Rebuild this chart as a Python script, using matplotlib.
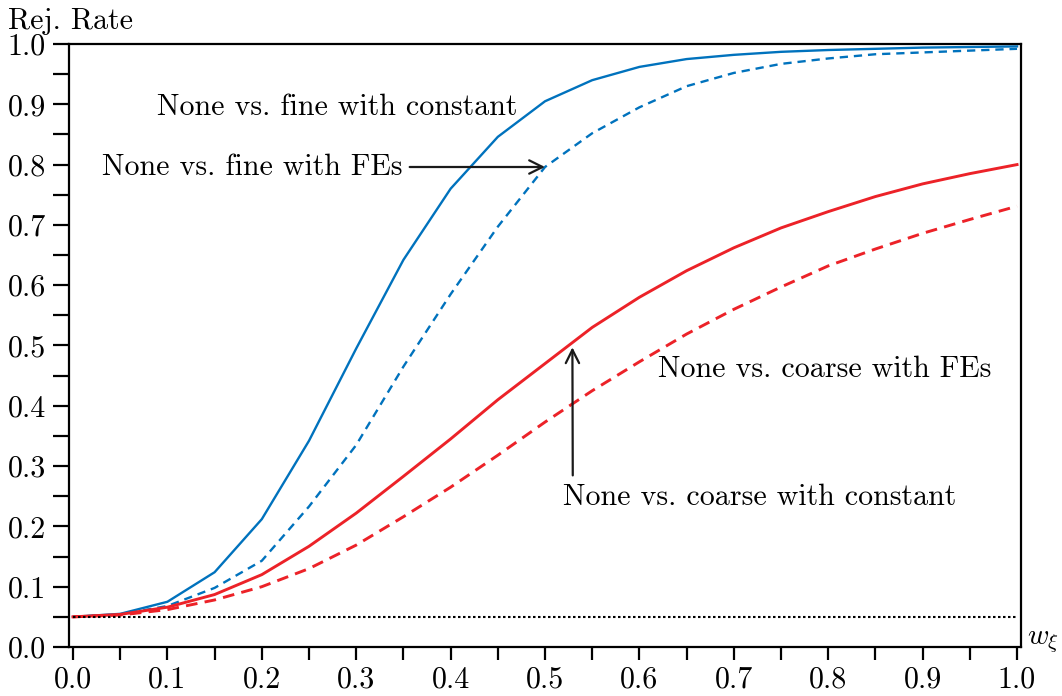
import matplotlib
matplotlib.use("Agg")
import matplotlib.pyplot as plt
from matplotlib.ticker import MultipleLocator, FormatStrFormatter

plt.rcParams['font.family'] = ['cmr10', 'DejaVu Serif']
plt.rcParams['mathtext.fontset'] = 'cm'
plt.rcParams['axes.formatter.use_mathtext'] = True

w = [0.0, 0.05, 0.1, 0.15, 0.2, 0.25, 0.3, 0.35, 0.4, 0.45, 0.5,
     0.55, 0.6, 0.65, 0.7, 0.75, 0.8, 0.85, 0.9, 0.95, 1.0]

fine_const = [0.05, 0.055, 0.075, 0.124, 0.212, 0.342, 0.495, 0.642, 0.76, 0.846, 0.905,
              0.94, 0.962, 0.975, 0.982, 0.987, 0.99, 0.992, 0.994, 0.995, 0.996]
fine_fe = [0.05, 0.054, 0.068, 0.098, 0.143, 0.233, 0.335, 0.465, 0.585, 0.697, 0.796,
           0.852, 0.895, 0.93, 0.952, 0.967, 0.976, 0.983, 0.986, 0.989, 0.992]
coarse_const = [0.05, 0.054, 0.066, 0.087, 0.12, 0.167, 0.222, 0.283, 0.345, 0.41, 0.47,
                0.53, 0.58, 0.624, 0.662, 0.695, 0.722, 0.747, 0.768, 0.785, 0.8]
coarse_fe = [0.05, 0.053, 0.062, 0.078, 0.1, 0.13, 0.169, 0.216, 0.265, 0.318, 0.373,
             0.425, 0.473, 0.519, 0.56, 0.597, 0.632, 0.66, 0.686, 0.709, 0.731]
nominal = 0.05

blue = '#0072BD'
red = '#EC2228'
fs = 21.6

fig = plt.figure(figsize=(10.62, 6.96), dpi=100)
ax = fig.add_axes([0.065, 0.0704, 0.8964, 0.8664])

ax.plot(w, fine_const, color=blue, lw=1.7)
ax.plot(w, fine_fe, color=blue, lw=1.7, dashes=(3.5, 2.5))
ax.plot(w, coarse_const, color=red, lw=2.1)
ax.plot(w, coarse_fe, color=red, lw=2.1, dashes=(4, 2.5))
ax.plot([0, 1], [nominal, nominal], color='black', lw=1.5, dashes=(1.2, 1.2))

ax.set_xlim(-0.0042, 1.0042)
ax.set_ylim(0, 1)

ax.xaxis.set_major_locator(MultipleLocator(0.1))
ax.xaxis.set_minor_locator(MultipleLocator(0.05))
ax.yaxis.set_major_locator(MultipleLocator(0.1))
ax.yaxis.set_minor_locator(MultipleLocator(0.05))
ax.xaxis.set_major_formatter(FormatStrFormatter('%.1f'))
ax.yaxis.set_major_formatter(FormatStrFormatter('%.1f'))
ax.tick_params(axis='x', which='both', direction='out', length=9.5, width=1.6, labelsize=fs, pad=4)
ax.tick_params(axis='y', which='both', direction='out', length=11.5, width=1.6, labelsize=fs, pad=5)
for s in ax.spines.values():
    s.set_linewidth(1.6)

fig.text(0.0075, 0.958, 'Rej. Rate', fontsize=fs, ha='left', va='baseline')
ax.text(1.006, 0.005, r'$w_\xi$', transform=ax.transAxes, fontsize=21, ha='left', va='baseline')

ax.text(0.089, 0.895, 'None vs. fine with constant', fontsize=fs, ha='left', va='center')
ax.annotate('None vs. fine with FEs', xy=(0.5, 0.796), xytext=(0.031, 0.796),
            fontsize=fs, ha='left', va='center',
            arrowprops=dict(arrowstyle='->', color='#1a1a1a', lw=1.6, mutation_scale=24,
                            shrinkA=3, shrinkB=0))
ax.text(0.62, 0.46, 'None vs. coarse with FEs', fontsize=fs, ha='left', va='center')
ax.annotate('None vs. coarse with constant', xy=(0.529, 0.497), xytext=(0.519, 0.248),
            fontsize=fs, ha='left', va='center',
            arrowprops=dict(arrowstyle='->', color='#1a1a1a', lw=1.6, mutation_scale=24,
                            shrinkA=4, shrinkB=0, relpos=(0.025, 1.0)))

fig.savefig('out.png', dpi=100)
